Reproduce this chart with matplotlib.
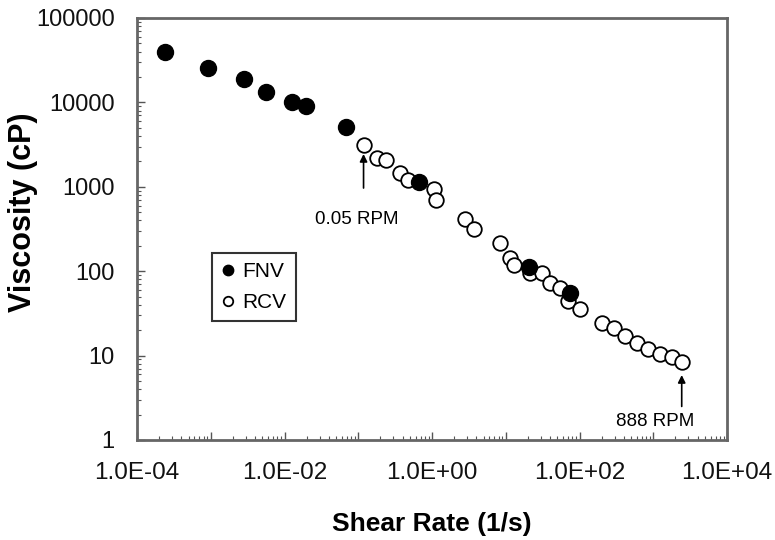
import matplotlib
matplotlib.use('Agg')
import matplotlib.pyplot as plt
from matplotlib.ticker import LogLocator, FuncFormatter, NullFormatter
import numpy as np

plt.rcParams['font.family'] = ['Liberation Sans', 'DejaVu Sans']

# FNV: filled circles
fnv_x = [2.40e-4, 9.10e-4, 2.83e-3, 5.56e-3, 0.01253, 0.0196, 0.0682, 0.662, 20.8, 74.3]
fnv_y = [39900, 25800, 18800, 13400, 10200, 9060, 5070, 1150, 111, 55.6]

# RCV: open circles (first point = 0.05 RPM, last point = 888 RPM)
rcv_x = [0.118, 0.182, 0.240, 0.368, 0.473, 1.05, 1.13, 2.80, 3.71, 8.36,
         11.4, 12.9, 21.3, 30.7, 39.8, 54.4, 70.5, 102, 202, 298,
         414, 603, 857, 1216, 1778, 2432]
rcv_y = [3130, 2176, 2094, 1476, 1219, 941, 698, 412, 314, 214,
         142, 118, 94.4, 94.4, 71.9, 62.7, 44.6, 35.2, 24.1, 21.1,
         17.1, 14.0, 11.9, 10.5, 9.55, 8.4]

fig = plt.figure(figsize=(7.75, 5.4), dpi=100)
ax = fig.add_axes([137/775, 1 - 440/540, (727 - 137)/775, (440 - 18)/540])

ax.plot(rcv_x, rcv_y, 'o', ms=10.5, mfc='white', mec='black', mew=1.3,
        ls='none', label='RCV', zorder=3)
ax.plot(fnv_x, fnv_y, 'o', ms=11.5, mfc='black', mec='black',
        ls='none', label='FNV', zorder=4)

ax.set_xscale('log')
ax.set_yscale('log')
ax.set_xlim(1e-4, 1e4)
ax.set_ylim(1, 1e5)

def fmt_x(v, pos):
    e = int(round(np.log10(v)))
    if e % 2 != 0:
        return ''
    return '1.0E%+03d' % e

ax.xaxis.set_major_locator(LogLocator(base=10, numticks=20))
ax.xaxis.set_minor_locator(LogLocator(base=10, subs=np.arange(2, 10), numticks=20))
ax.xaxis.set_major_formatter(FuncFormatter(fmt_x))
ax.xaxis.set_minor_formatter(NullFormatter())
ax.yaxis.set_major_locator(LogLocator(base=10, numticks=10))
ax.yaxis.set_minor_locator(LogLocator(base=10, subs=np.arange(2, 10), numticks=10))
ax.yaxis.set_major_formatter(FuncFormatter(lambda v, p: '%d' % round(v)))
ax.yaxis.set_minor_formatter(NullFormatter())

ax.tick_params(which='both', direction='in', colors='#555555', labelcolor='#111111')
ax.tick_params(which='major', length=6, width=1)
ax.tick_params(which='minor', length=3, width=0.8)
ax.tick_params(axis='x', which='major', labelsize=17.5, pad=16)
ax.tick_params(axis='y', which='major', labelsize=17, pad=16)

for s in ax.spines.values():
    s.set_color('#666666')
    s.set_linewidth(2)

ax.set_xlabel('Shear Rate (1/s)', fontsize=19, fontweight='bold')
ax.xaxis.set_label_coords(0.5, (440 - 524) / 422)
ax.xaxis.label.set_va('center')
ax.set_ylabel('Viscosity (cP)', fontsize=22, fontweight='bold')
ax.yaxis.set_label_coords((23 - 137) / 590, (440 - 212) / 422)
ax.yaxis.label.set_va('center')

handles, labels = ax.get_legend_handles_labels()
leg = ax.legend(handles[::-1], labels[::-1], loc='upper left',
                bbox_to_anchor=((212 - 137) / 590, (440 - 253) / 422),
                borderaxespad=0, fontsize=15, markerscale=0.65,
                handlelength=0.6, handletextpad=0.4, labelspacing=0.55,
                borderpad=0.45, fancybox=False, framealpha=1)
leg.get_frame().set_edgecolor('#333333')
leg.get_frame().set_linewidth(1.5)

# arrows marking the first and last RCV readings
arrow = dict(arrowstyle='-|>', color='black', lw=1.2, shrinkA=0, mutation_scale=11)
ax.annotate('', xy=(rcv_x[0], rcv_y[0]), xytext=(0, -31), textcoords='offset points',
            arrowprops=dict(arrow, shrinkB=6.5))
ax.annotate('0.05 RPM', xy=(rcv_x[0], rcv_y[0]), xytext=(-5, -54),
            textcoords='offset points', ha='center', va='center', fontsize=13.5)
ax.annotate('', xy=(rcv_x[-1], rcv_y[-1]), xytext=(0, -32), textcoords='offset points',
            arrowprops=dict(arrow, shrinkB=9.4))
ax.annotate('888 RPM', xy=(rcv_x[-1], rcv_y[-1]), xytext=(-19, -43),
            textcoords='offset points', ha='center', va='center', fontsize=13.5)

fig.savefig('out.png', dpi=100)
